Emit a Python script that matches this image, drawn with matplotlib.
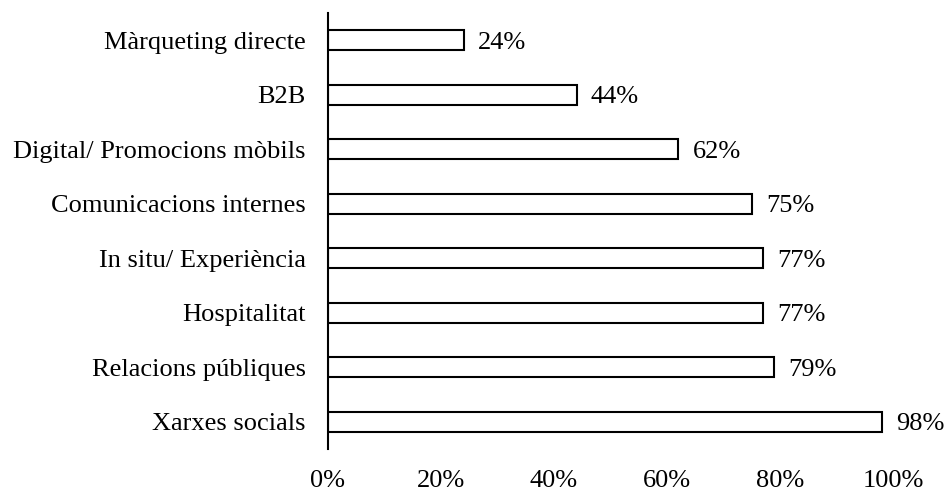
import matplotlib.pyplot as plt
from matplotlib.ticker import PercentFormatter

# Categories listed from top to bottom, as in the chart.
categories = [
    "Màrqueting directe",
    "B2B",
    "Digital/ Promocions mòbils",
    "Comunicacions internes",
    "In situ/ Experiència",
    "Hospitalitat",
    "Relacions públiques",
    "Xarxes socials",
]
values = [24, 44, 62, 75, 77, 77, 79, 98]
xticks = [0, 20, 40, 60, 80, 100]

plt.rcParams["font.family"] = ["Liberation Serif", "DejaVu Serif"]
FS = 19

fig = plt.figure(figsize=(9.46, 4.92), dpi=100)
ax = fig.add_axes([0.3467, 0.0874, 0.5973, 0.8862])

pos = list(range(len(categories)))
ax.barh(pos, values, height=0.36, color="white", edgecolor="black",
        linewidth=1.5)
for y, v in zip(pos, values):
    ax.text(v + 2.5, y, f"{v}%", va="center_baseline", ha="left",
            fontsize=FS)

ax.set_yticks(pos)
ax.set_yticklabels(categories, fontsize=FS, va="center_baseline")
ax.set_ylim(len(categories) - 0.5, -0.5)
ax.set_xlim(0, 100)
ax.set_xticks(xticks)
ax.xaxis.set_major_formatter(PercentFormatter(decimals=0))
ax.tick_params(axis="x", length=0, labelsize=FS, pad=15)
ax.tick_params(axis="y", length=0, pad=16)

for s in ("top", "right", "bottom"):
    ax.spines[s].set_visible(False)
ax.spines["left"].set_linewidth(1.5)

fig.savefig("out.png", dpi=100, facecolor="white")
